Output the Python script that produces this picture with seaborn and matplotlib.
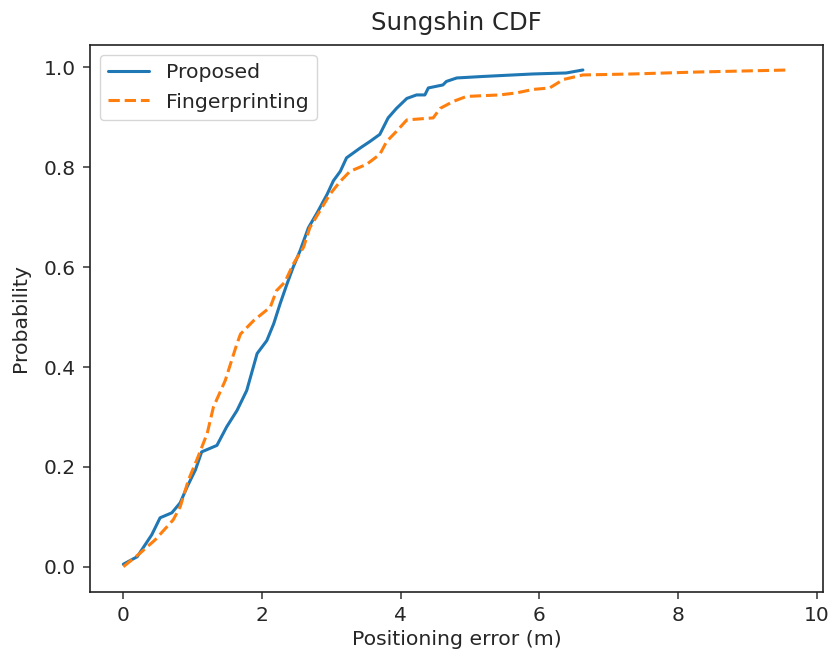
import matplotlib
matplotlib.use("Agg")
import matplotlib.pyplot as plt
import seaborn as sns
import pandas as pd

# Empirical CDF of positioning error (m) for each method
proposed_err = [0, 0.2, 0.41, 0.53, 0.70, 0.82, 0.92, 1.04, 1.13, 1.35, 1.49, 1.64,
                1.78, 1.93, 2.07, 2.17, 2.26, 2.36, 2.45, 2.55, 2.67, 2.80, 2.94,
                3.03, 3.13, 3.22, 3.42, 3.56, 3.70, 3.82, 3.94, 4.09, 4.23, 4.35,
                4.40, 4.61, 4.66, 4.81, 5.19, 5.91, 6.39, 6.63]
proposed_prob = [0.005, 0.02, 0.064, 0.098, 0.108, 0.128, 0.16, 0.194, 0.23, 0.243,
                 0.28, 0.313, 0.353, 0.427, 0.453, 0.487, 0.526, 0.566, 0.6, 0.633,
                 0.679, 0.71, 0.746, 0.773, 0.792, 0.819, 0.839, 0.852, 0.866, 0.899,
                 0.918, 0.938, 0.945, 0.945, 0.959, 0.965, 0.972, 0.979, 0.982,
                 0.987, 0.989, 0.995]

finger_err = [0, 0.24, 0.46, 0.72, 0.82, 0.94, 1.06, 1.21, 1.30, 1.47, 1.64, 1.69,
              1.88, 2.12, 2.21, 2.33, 2.45, 2.60, 2.69, 2.98, 3.13, 3.27, 3.51,
              3.70, 3.80, 3.94, 4.09, 4.47, 4.57, 4.76, 4.95, 5.43, 5.67, 5.91,
              6.15, 6.35, 6.63, 7.35, 8.31, 9.61]
finger_prob = [0.0, 0.027, 0.054, 0.094, 0.12, 0.174, 0.214, 0.267, 0.32, 0.373,
               0.447, 0.466, 0.493, 0.52, 0.553, 0.57, 0.606, 0.64, 0.679, 0.746,
               0.772, 0.792, 0.806, 0.826, 0.852, 0.872, 0.895, 0.899, 0.918, 0.932,
               0.942, 0.945, 0.949, 0.956, 0.959, 0.976, 0.985, 0.987, 0.991, 0.995]

methods = ["Proposed", "Fingerprinting"]

df = pd.concat([
    pd.DataFrame({"err": proposed_err, "prob": proposed_prob, "method": methods[0]}),
    pd.DataFrame({"err": finger_err, "prob": finger_prob, "method": methods[1]}),
], ignore_index=True)

sns.set_style("ticks")
plt.rcParams["font.family"] = ["DejaVu Sans"]

fig = plt.figure(figsize=(8.34, 6.58), dpi=100)
ax = fig.add_axes([0.108, 0.1008, 0.8785, 0.8308])

sns.lineplot(data=df, x="err", y="prob", hue="method", style="method",
             hue_order=methods, style_order=methods,
             palette=["#1f77b4", "#ff7f0e"],
             dashes={"Proposed": "", "Fingerprinting": (3.7, 1.6)},
             sort=False, estimator=None, linewidth=2.2, ax=ax)

ax.set_title("Sungshin CDF", fontsize=17.6, pad=11)
ax.set_xlabel("Positioning error (m)", fontsize=14.7, labelpad=4)
ax.set_ylabel("Probability", fontsize=14.7, labelpad=10)
ax.tick_params(labelsize=14.5, length=5.1, width=1.1, pad=5, color="#333333")
ax.set_xticks([0, 2, 4, 6, 8, 10])
ax.set_yticks([0.0, 0.2, 0.4, 0.6, 0.8, 1.0])
ax.set_xlim(-0.48, 10.09)
ax.set_ylim(-0.05, 1.045)
for s in ax.spines.values():
    s.set_linewidth(1.2)
    s.set_color("#222222")

leg = ax.legend(loc="upper left", fontsize=14.7, frameon=True, handlelength=2.0)
leg.get_frame().set_edgecolor("#cccccc")

fig.savefig("out.png", dpi=100)
